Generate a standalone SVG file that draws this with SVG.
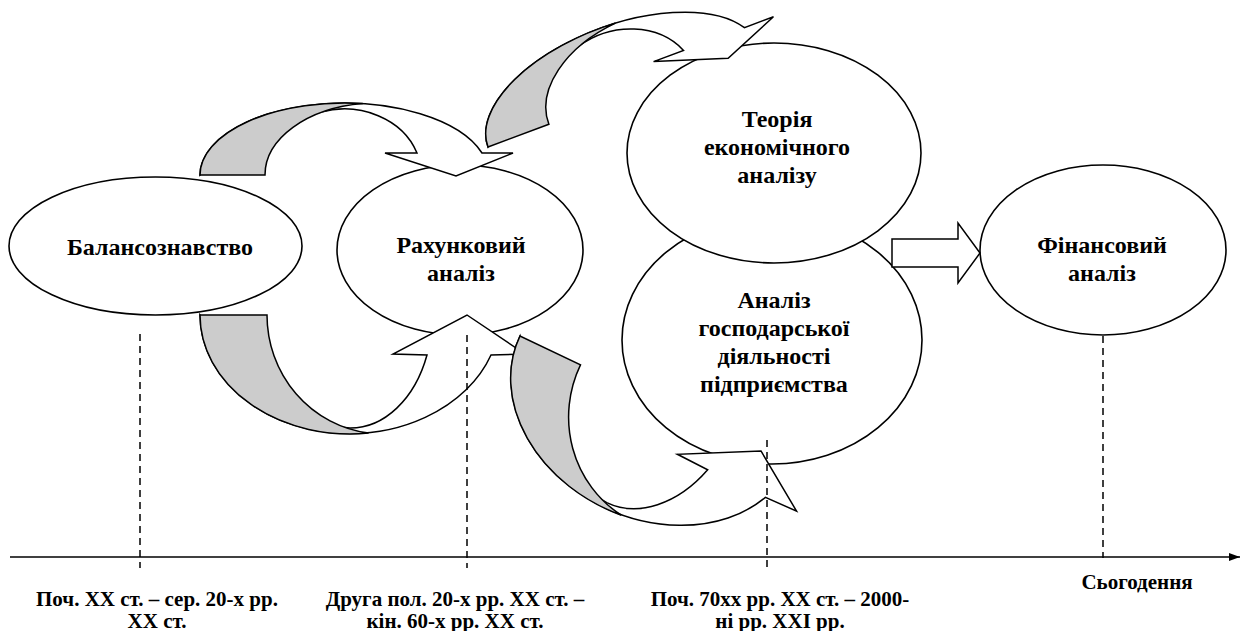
<svg xmlns="http://www.w3.org/2000/svg" xmlns:xlink="http://www.w3.org/1999/xlink" width="1249" height="631" viewBox="0 0 1249 631">
<style>
.el{fill:#fff;stroke:#000;stroke-width:1.6}
.w{fill:#fff;stroke:#000;stroke-width:1.5;stroke-linejoin:miter}
.g{fill:#cccccc;stroke:#000;stroke-width:1.5}
.t{font-family:"Liberation Serif","Times New Roman",serif;font-weight:bold;font-size:24px;text-anchor:middle;fill:#000}
.l{font-family:"Liberation Serif","Times New Roman",serif;font-weight:bold;font-size:21px;text-anchor:middle;fill:#000}
.d{stroke:#000;stroke-width:1.5;stroke-dasharray:7 5;fill:none}
</style>
<defs>
<marker id="ah" markerWidth="12" markerHeight="10" refX="11" refY="5" orient="auto" markerUnits="userSpaceOnUse">
<path d="M0,1 L11,5 L0,9 Z" fill="#000"/>
</marker>
<g id="arrA">
<path class="w" d="M0,0 A144.5,72 0 0 1 282,-22 L313,-22 L256,1 L185,-22 L217,-22 A77,66 0 0 0 120,-62.6 L100,-60 L40,-35 Z"/>
<path class="g" d="M0,0 A144.5,72 0 0 1 162.8,-71.4 A112,72 0 0 0 65,0 Z"/>
</g>
<g id="arrC">
<path class="w" d="M0,0 A150,119 0 0 0 291,40 L325,39 L267,0 L193,39 L227,40 A82,113 0 0 1 150,113 L100,108 L40,60 Z"/>
<path class="g" d="M0,0 A150,119 0 0 0 168.6,118.1 A116,119 0 0 1 67,0 Z"/>
</g>
</defs>

<g id="node-analiz-gospodarskoi">
<ellipse class="el" cx="772" cy="340" rx="150" ry="124"/>
<text class="t" x="774" y="308">Аналіз</text>
<text class="t" x="774" y="336">господарської</text>
<text class="t" x="774" y="364">діяльності</text>
<text class="t" x="774" y="392">підприємства</text>
</g>
<g id="node-teoriia">
<ellipse class="el" cx="774" cy="153" rx="147" ry="110"/>
<text class="t" x="777" y="127">Теорія</text>
<text class="t" x="777" y="155">економічного</text>
<text class="t" x="777" y="183">аналізу</text>
</g>
<g id="node-balansoznavstvo">
<ellipse class="el" cx="155.5" cy="246" rx="146.5" ry="69"/>
<text class="t" x="160" y="255">Балансознавство</text>
</g>
<g id="node-rakhunkovyi">
<ellipse class="el" cx="460" cy="250" rx="123" ry="85"/>
<text class="t" x="461" y="253">Рахунковий</text>
<text class="t" x="461" y="281">аналіз</text>
</g>
<g id="node-finansovyi">
<ellipse class="el" cx="1103" cy="250" rx="123" ry="85"/>
<text class="t" x="1102" y="253">Фінансовий</text>
<text class="t" x="1102" y="281">аналіз</text>
</g>

<g id="connectors">
<use xlink:href="#arrA" transform="translate(200,175)"/>
<use xlink:href="#arrA" transform="translate(488,147) rotate(-20.5)"/>
<use xlink:href="#arrC" transform="translate(200,315)"/>
<use xlink:href="#arrC" transform="translate(520,336) rotate(25.5)"/>
<path class="w" d="M892,239 L958,239 L958,223 L980,253 L958,283 L958,267 L892,267 Z"/>
</g>

<g id="timeline">
<line x1="10" y1="557" x2="1240" y2="557" stroke="#000" stroke-width="1.6" marker-end="url(#ah)"/>
<line class="d" x1="140" y1="334" x2="140" y2="568"/>
<line class="d" x1="467" y1="335" x2="467" y2="568"/>
<line class="d" x1="767" y1="440" x2="767" y2="570"/>
<line class="d" x1="1103" y1="336" x2="1103" y2="558"/>
<text class="l" x="157" y="606">Поч. ХХ ст. – сер. 20-х рр.</text>
<text class="l" x="157" y="628">ХХ ст.</text>
<text class="l" x="455" y="606">Друга пол. 20-х рр. ХХ ст. –</text>
<text class="l" x="455" y="628">кін. 60-х рр. ХХ ст.</text>
<text class="l" x="780" y="606">Поч. 70хх рр. ХХ ст. – 2000-</text>
<text class="l" x="780" y="628">ні рр. ХХІ рр.</text>
<text class="l" x="1137" y="589">Сьогодення</text>
</g>
</svg>
